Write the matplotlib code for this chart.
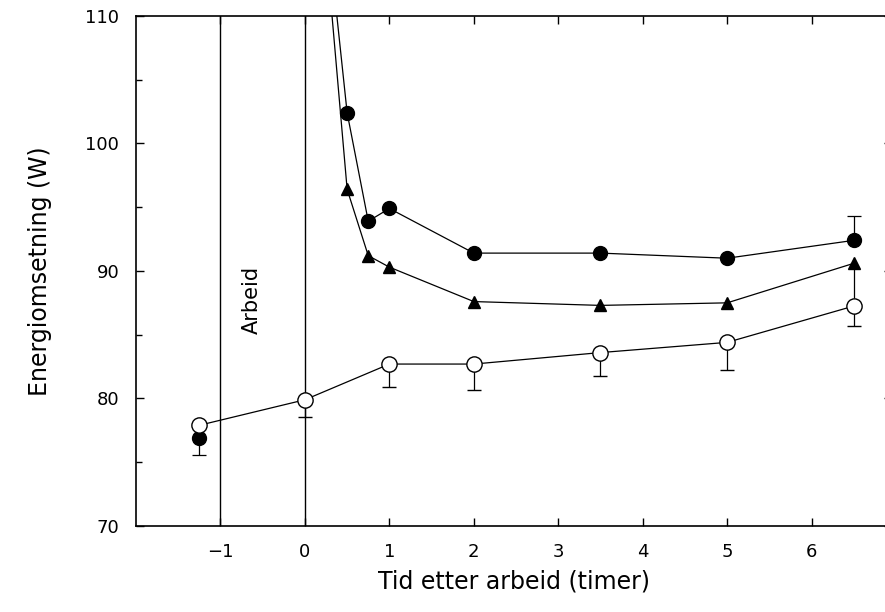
import numpy as np
import matplotlib
matplotlib.use("Agg")
import matplotlib.pyplot as plt
from matplotlib.ticker import MultipleLocator

# tid etter arbeid (timer) og energiomsetning (W)
t_pre = [-1.25]
e_pre = [76.9]
err_pre_lo = [1.3]

t_filled = [0.25, 0.5, 0.75, 1.0, 2.0, 3.5, 5.0, 6.5]
e_filled = [118.0, 102.4, 93.9, 94.9, 91.4, 91.4, 91.0, 92.4]
err_filled_hi = [0, 0, 0, 0, 0, 0, 0, 1.9]

t_tri = [0.25, 0.5, 0.75, 1.0, 2.0, 3.5, 5.0, 6.5]
e_tri = [115.4, 96.4, 91.2, 90.3, 87.6, 87.3, 87.5, 90.6]
err_tri_lo = [0, 0, 0, 0, 0, 0, 0, 2.7]

t_open = [-1.25, 0.0, 1.0, 2.0, 3.5, 5.0, 6.5]
e_open = [77.9, 79.9, 82.7, 82.7, 83.6, 84.4, 87.25]
err_open_lo = [0, 1.35, 1.8, 2.0, 1.8, 2.2, 1.55]

arbeid_grenser = [-1, 0]

plt.rcParams['font.family'] = ['DejaVu Sans']

fig = plt.figure(figsize=(8.85, 6.12), dpi=100)
ax = fig.add_axes([0.1537, 0.1405, 0.854, 0.8335])

for xv in arbeid_grenser:
    ax.axvline(xv, color="black", lw=1.0, zorder=1)

ax.errorbar(t_pre, e_pre, yerr=[err_pre_lo, [0]], fmt="o",
            color="black", mfc="black", ms=10, elinewidth=0.9,
            capsize=5, capthick=0.9, zorder=3)
ax.errorbar(t_filled, e_filled, yerr=[[0] * len(t_filled), err_filled_hi], fmt="-o",
            color="black", mfc="black", ms=10, lw=0.9, elinewidth=0.9,
            capsize=5, capthick=0.9, zorder=3)
ax.errorbar(t_tri, e_tri, yerr=[err_tri_lo, [0] * len(t_tri)], fmt="-^",
            color="black", mfc="black", ms=9, lw=0.9, elinewidth=0.9,
            capsize=0, zorder=3)
ax.errorbar(t_open, e_open, yerr=[err_open_lo, [0] * len(t_open)], fmt="-o",
            color="black", mfc="white", mec="black", mew=1.0, ms=11, lw=0.9,
            elinewidth=0.9, capsize=5, capthick=0.9, zorder=4)

ax.text(-0.63, 87.7, "Arbeid", rotation=90, ha="center", va="center",
        fontsize=15)

ax.set_xlim(-2, 6.95)
ax.set_ylim(70, 110)
ax.set_xticks(range(-1, 7))
ax.set_xticklabels(["\u22121", "0", "1", "2", "3", "4", "5", "6"])
ax.yaxis.set_major_locator(MultipleLocator(10))
ax.yaxis.set_minor_locator(MultipleLocator(5))
ax.tick_params(which="both", direction="in", top=True, right=True,
               labelsize=13, width=1.0)
ax.tick_params(which="major", length=6, pad=12)
ax.tick_params(which="minor", length=4)
for sp in ax.spines.values():
    sp.set_linewidth(1.2)

ax.set_xlabel("Tid etter arbeid (timer)", fontsize=17, labelpad=6)
ax.set_ylabel("Energiomsetning (W)", fontsize=17, labelpad=24)

fig.savefig("out.png", dpi=100)
